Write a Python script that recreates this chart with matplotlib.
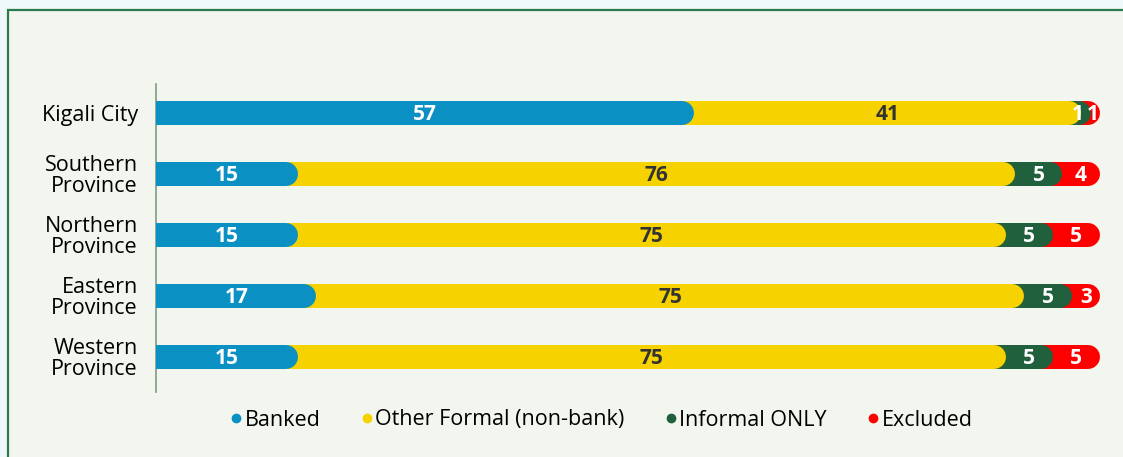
import numpy as np
import matplotlib.pyplot as plt
from matplotlib.patches import Rectangle
from matplotlib.lines import Line2D

regions = ["Kigali City", "Southern\nProvince", "Northern\nProvince", "Eastern\nProvince", "Western\nProvince"]
series = ["Banked", "Other Formal (non-bank)", "Informal ONLY", "Excluded"]
banked = [57, 15, 15, 17, 15]
other_formal = [41, 76, 75, 75, 75]
informal = [1, 5, 5, 5, 5]
excluded = [1, 4, 5, 3, 5]

colors = ["#0a90c2", "#f5d200", "#21603c", "#ff0000"]
text_colors = ["white", "#333333", "white", "white"]

plt.rcParams['font.family'] = ['Open Sans', 'DejaVu Sans']

W, H = 1123, 457
fig = plt.figure(figsize=(W / 100, H / 100), dpi=100)
fig.patch.set_facecolor("#eff8f8")

# panel behind the chart
fig.patches.append(Rectangle((7.5 / W, -0.05), 1.1, (H - 9.5) / H + 0.05,
                             transform=fig.transFigure, facecolor="#f2f6ee",
                             edgecolor="#2a7a50", lw=1.6, zorder=-10))

ax = fig.add_axes([156 / W, (H - 392) / H, 944 / W, 308 / H])
ax.set_zorder(5)
ax.set_facecolor("none")
ax.set_xlim(0, 100)
ax.set_ylim(4.574, -0.475)

bar_px = 24
lw_pt = bar_px * 72 / 100
cap = (bar_px / 2) / (944 / 100)   # cap radius in x units

data = np.array([banked, other_formal, informal, excluded])
cum = data.cumsum(axis=0)

for i in range(len(regions)):
    # longest first, so earlier segments sit on top of later ones
    for k in range(3, -1, -1):
        end = cum[k, i]
        ax.plot([-5, end - cap], [i, i], color=colors[k], lw=lw_pt,
                solid_capstyle="round", zorder=2 + (4 - k))
    for k in range(4):
        start = cum[k, i] - data[k, i]
        mid = start + data[k, i] / 2
        if data[k, i] <= 1:
            mid -= 0.9 if k == 2 else 0.3
        ax.text(mid, i + 0.03, str(data[k, i]), ha="center", va="center",
                color=text_colors[k], fontsize=15, fontweight="bold", zorder=10)

ax.set_yticks(range(len(regions)))
ax.set_yticklabels(regions, fontsize=15.5, linespacing=1.0)
ax.tick_params(axis="y", length=0, pad=13)
ax.set_xticks([])
for s in ["top", "right", "bottom"]:
    ax.spines[s].set_visible(False)
ax.spines["left"].set_color("#7f9c88")
ax.spines["left"].set_linewidth(1.2)

handles = [Line2D([], [], marker="o", ls="none", color=c, markersize=6) for c in colors]
fig.legend(handles, series, loc="center", bbox_to_anchor=(600 / W, (H - 420) / H),
           ncol=4, frameon=False, fontsize=15.5, handletextpad=0.0,
           columnspacing=1.75, handlelength=0.8)

fig.savefig("out.png", dpi=100, facecolor=fig.get_facecolor())
